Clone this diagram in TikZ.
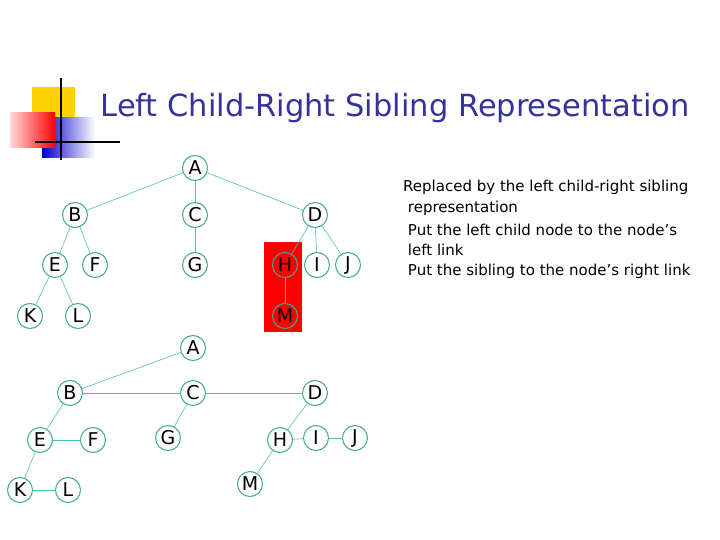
\documentclass[tikz,border=0pt]{standalone}
\usepackage{fontspec}
\setmainfont{DejaVu Sans}
\begin{document}
\begin{tikzpicture}[x=1pt,y=-1pt,
  tn/.style={circle,draw=circ,line width=1pt,minimum size=25pt,inner sep=0pt,font=\fontsize{19}{19}\selectfont},
  ed/.style={draw=edge,line width=0.6pt}]
\definecolor{circ}{HTML}{3FAA8E}
\definecolor{edge}{HTML}{4FC0B0}
\definecolor{navy}{HTML}{333399}
\useasboundingbox (0,0) rectangle (720,540);
% logo
\fill[yellow!70!orange] (32,87) rectangle (75,118);
\shade[left color=blue!80!black,right color=white] (42,118) rectangle (95,158);
\shade[left color=red!15,right color=red] (10,113) rectangle (55,148);
\draw[line width=1.5pt] (61,78) -- (61,160);
\draw[line width=1.5pt] (35,142) -- (120,142);
\node[anchor=west,text=navy,font=\fontsize{30.5}{30.5}\selectfont] (title) at (97,108) {Left Child-Right Sibling Representation};
% red highlight
\fill[red] (264,242) rectangle (302,332);
% top tree
\node[tn] (A) at (195,168) {A};
\node[tn] (B) at (75,215) {B};
\node[tn] (C) at (195,215) {C};
\node[tn] (D) at (315,215) {D};
\node[tn] (E) at (55,265) {E};
\node[tn] (F) at (95,265) {F};
\node[tn] (G) at (195,265) {G};
\node[tn] (H) at (285,265) {H};
\node[tn] (I) at (317,265) {I};
\node[tn] (J) at (348,265) {J};
\node[tn] (K) at (30,316) {K};
\node[tn] (L) at (78,316) {L};
\node[tn] (M) at (285,316) {M};
\foreach \a/\b in {A/B,A/C,A/D,B/E,B/F,C/G,D/H,D/I,D/J,E/K,E/L,H/M} \draw[ed] (\a) -- (\b);
% bottom tree
\node[tn] (a) at (193,348) {A};
\node[tn] (b) at (70,393) {B};
\node[tn] (c) at (193,393) {C};
\node[tn] (d) at (315,393) {D};
\node[tn] (e) at (40,440) {E};
\node[tn] (f) at (93,440) {F};
\node[tn] (g) at (168,438) {G};
\node[tn] (h) at (280,440) {H};
\node[tn] (i) at (316,438) {I};
\node[tn] (j) at (355,438) {J};
\node[tn] (k) at (20,490) {K};
\node[tn] (l) at (68,490) {L};
\node[tn] (m) at (250,484) {M};
\foreach \a/\b in {a/b,b/c,c/d,b/e,e/f,c/g,d/h,h/i,i/j,e/k,k/l,h/m} \draw[ed] (\a) -- (\b);
% text
\node[anchor=north west,align=left,inner sep=0pt,font=\fontsize{15}{21}\selectfont] (txt) at (403,180)
{Replaced by the left child-right sibling\\ \ representation\\[2pt] \ Put the left child node to the node’s\\[-1pt] \ left link\\[-1pt] \ Put the sibling to the node’s right link};
\end{tikzpicture}
\end{document}
